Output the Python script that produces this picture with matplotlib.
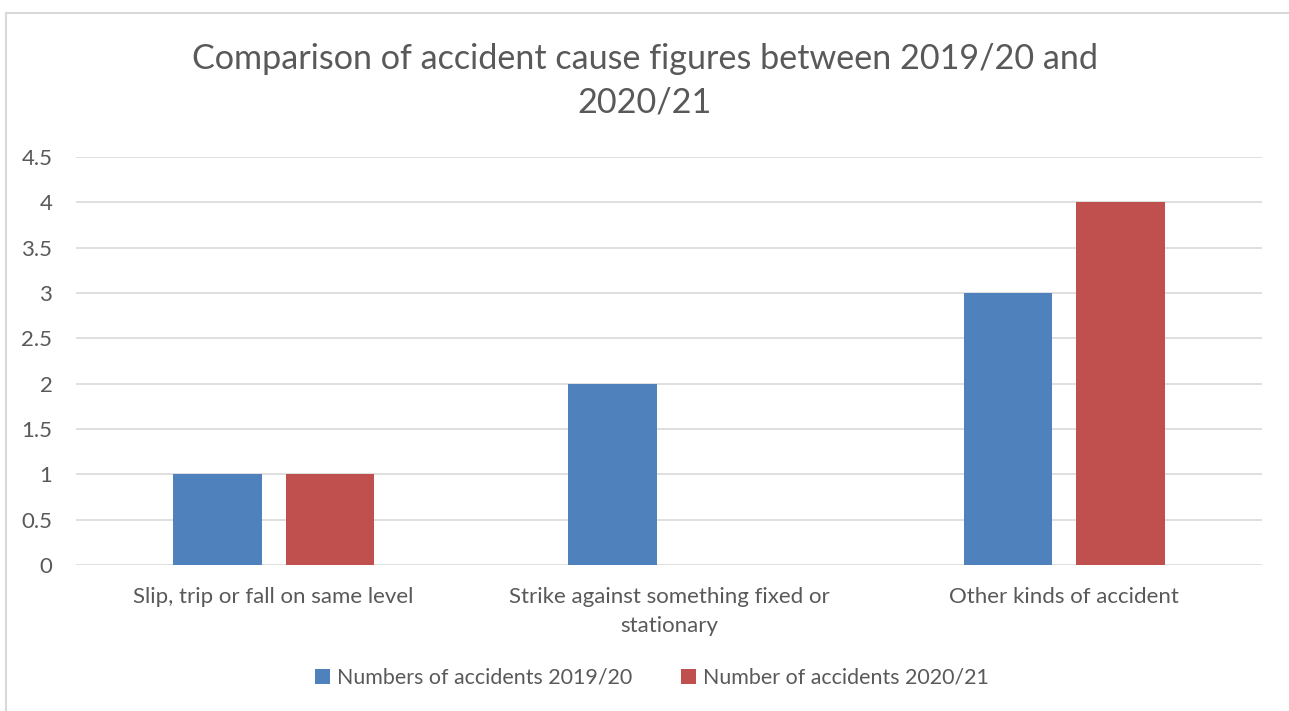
import numpy as np
import matplotlib.pyplot as plt

# categories and series
categories = ['Slip, trip or fall on same level',
              'Strike against something fixed or\nstationary',
              'Other kinds of accident']
series_names = ['Numbers of accidents 2019/20', 'Number of accidents 2020/21']
values_1920 = [1, 2, 3]
values_2021 = [1, 0, 4]
yticks = [0, 0.5, 1, 1.5, 2, 2.5, 3, 3.5, 4, 4.5]

txt = '#595959'
plt.rcParams['font.family'] = ['Lato', 'DejaVu Sans']

fig = plt.figure(figsize=(12.89, 7.11), dpi=100)
# chart border like the office chart frame
fig.patches.append(plt.Rectangle((6 / 1289, -0.01), 1.02, 1 - 13 / 711 + 0.01,
                                 transform=fig.transFigure, fill=False,
                                 edgecolor='#d9d9d9', linewidth=1.5))

ax = fig.add_axes([76 / 1289, (711 - 565) / 711, (1262 - 76) / 1289, (565 - 157) / 711])
x = np.arange(len(categories))
w = 0.225
ax.bar(x - 0.1425, values_1920, w, color='#4F81BD', label=series_names[0], zorder=3)
ax.bar(x + 0.1425, values_2021, w, color='#C0504D', label=series_names[1], zorder=3)

ax.set_xlim(-0.5, 2.5)
ax.set_ylim(0, 4.5)
ax.set_yticks(yticks)
ax.set_yticklabels(['0', '0.5', '1', '1.5', '2', '2.5', '3', '3.5', '4', '4.5'])
ax.set_xticks(x)
ax.set_xticklabels(categories, linespacing=1.55)
ax.yaxis.grid(True, color='#d9d9d9', linewidth=1.2, zorder=0)
for s in ax.spines.values():
    s.set_visible(False)
ax.tick_params(length=0, labelsize=16, colors=txt)
ax.tick_params(axis='y', pad=17)
ax.tick_params(axis='x', pad=16)

fig.text(0.5, 1 - 81 / 711, 'Comparison of accident cause figures between 2019/20 and\n2020/21',
         ha='center', va='center', fontsize=24.6, color=txt, linespacing=1.45)

leg = fig.legend(loc='center', bbox_to_anchor=(652 / 1289, 1 - 678 / 711), ncol=2,
                 frameon=False, fontsize=15.4, handlelength=0.7, handleheight=0.7,
                 columnspacing=2.3, handletextpad=0.3)
for t in leg.get_texts():
    t.set_color(txt)

plt.savefig('out.png', dpi=100)
